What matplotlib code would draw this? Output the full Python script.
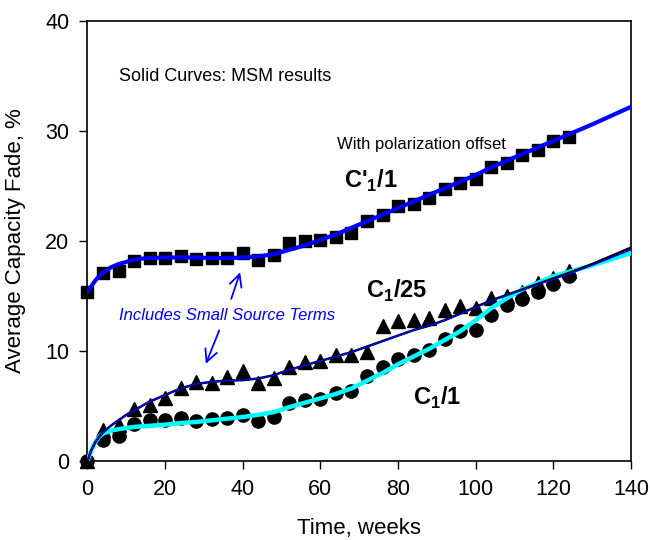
import matplotlib
matplotlib.use("Agg")
import matplotlib.pyplot as plt

plt.rcParams['font.family'] = ['Liberation Sans', 'DejaVu Sans']
plt.rcParams['mathtext.fontset'] = 'custom'
plt.rcParams['mathtext.rm'] = 'Liberation Sans'
plt.rcParams['mathtext.bf'] = 'Liberation Sans:bold'

# Mesures : une tous les 4 semaines
semainesMesures = list(range(0, 125, 4))

fadeCPrime = [15.4, 17.1, 17.25, 18.2, 18.5, 18.5, 18.6, 18.4, 18.5, 18.5, 18.9,
	18.3, 18.7, 19.8, 20.0, 20.1, 20.4, 20.7, 21.8, 22.4, 23.2, 23.4, 23.9, 24.7,
	25.3, 25.6, 26.7, 27.1, 27.8, 28.3, 29.1, 29.5]

fadeC25 = [0.0, 2.8, 3.3, 4.7, 5.1, 5.7, 6.6, 7.2, 7.1, 7.6, 8.2, 7.1, 7.5, 8.5,
	9.0, 9.1, 9.6, 9.6, 9.9, 12.3, 12.7, 12.85, 13.0, 13.7, 14.1, 13.9, 14.8, 15.0,
	15.4, 16.2, 16.6, 17.25]

fadeC1 = [0.0, 1.9, 2.3, 3.4, 3.7, 3.7, 3.9, 3.6, 3.8, 3.9, 4.2, 3.6, 4.0, 5.3,
	5.5, 5.6, 6.2, 6.4, 7.7, 8.5, 9.3, 9.6, 10.05, 11.1, 11.8, 11.9, 13.3, 14.2,
	14.7, 15.4, 16.1, 16.8]

# Courbes du modele MSM
semainesModele = [0, 1, 2, 3, 4, 6, 8, 10, 12, 14, 16, 20, 24, 28, 32, 36, 40, 44,
	48, 52, 56, 60, 64, 68, 72, 76, 80, 84, 88, 92, 96, 100, 104, 108, 112, 116,
	120, 124, 130, 140]

modeleCPrime = [15.4, 15.9, 16.4, 16.8, 17.1, 17.6, 17.9, 18.1, 18.3, 18.4, 18.45,
	18.5, 18.5, 18.5, 18.45, 18.45, 18.5, 18.6, 18.8, 19.2, 19.6, 20.1, 20.6, 21.2,
	21.8, 22.4, 23.0, 23.6, 24.2, 24.8, 25.4, 26.0, 26.7, 27.3, 27.9, 28.5, 29.1,
	29.7, 30.6, 32.2]

modeleC25 = [0.0, 1.0, 1.7, 2.2, 2.6, 3.2, 3.7, 4.2, 4.6, 5.0, 5.4, 6.0, 6.6, 7.0,
	7.2, 7.3, 7.35, 7.5, 7.8, 8.3, 8.7, 9.1, 9.5, 9.9, 10.4, 10.9, 11.4, 11.9, 12.3,
	12.8, 13.4, 14.0, 14.6, 15.1, 15.6, 16.1, 16.6, 17.1, 17.9, 19.4]

modeleC25Source = [0.0, 1.0, 1.7, 2.2, 2.6, 3.2, 3.7, 4.2, 4.6, 5.0, 5.4, 6.0, 6.6,
	7.0, 7.2, 7.3, 7.35, 7.5, 7.8, 8.3, 8.7, 9.1, 9.5, 9.9, 10.4, 10.9, 11.4, 11.9,
	12.3, 12.8, 13.35, 13.95, 14.55, 15.05, 15.55, 16.05, 16.5, 17.0, 17.8, 19.2]

modeleC1 = [0.0, 1.0, 1.7, 2.2, 2.5, 2.75, 2.9, 3.0, 3.1, 3.15, 3.2, 3.3, 3.45,
	3.55, 3.7, 3.85, 4.0, 4.2, 4.45, 4.9, 5.3, 5.7, 6.1, 6.6, 7.3, 8.0, 8.8, 9.5,
	10.2, 11.0, 11.8, 12.8, 13.9, 14.8, 15.6, 16.2, 16.8, 17.2, 17.8, 18.9]

fig = plt.figure(figsize=(6.5, 5.4), dpi=100)
ax = fig.add_axes([0.1346, 0.1463, 0.8362, 0.8148])

# points de mesure (non coupes au bord des axes)
ax.plot(semainesMesures, fadeCPrime, 's', color='black', markersize=8.5, zorder=2, clip_on=False)
ax.plot(semainesMesures, fadeC25, '^', color='black', markersize=9.5, zorder=2, clip_on=False)
ax.plot(semainesMesures, fadeC1, 'o', color='black', markersize=9.5, zorder=2, clip_on=False)

ax.plot(semainesModele, modeleC1, color='#00ffff', linewidth=3.2, zorder=3)
ax.plot(semainesModele, modeleC25, color='black', linewidth=1.8, zorder=4)
ax.plot(semainesModele, modeleC25Source, color='#0000ff', linewidth=1.0, zorder=5)
ax.plot(semainesModele, modeleCPrime, color='#0000ff', linewidth=3.0, zorder=4)

ax.set_xlim(0, 140)
ax.set_ylim(0, 40)
ax.set_xticks(range(0, 141, 20))
ax.set_yticks(range(0, 41, 10))
ax.tick_params(direction='out', length=6, width=1, labelsize=15.5, pad=7)
for spine in ax.spines.values():
	spine.set_linewidth(1.2)

ax.set_xlabel("Time, weeks", fontsize=16, labelpad=13)
ax.set_ylabel("Average Capacity Fade, %", fontsize=16, labelpad=14)

ax.text(8, 34.56, "Solid Curves: MSM results", fontsize=13, va='baseline')
ax.text(64.3, 28.4, "With polarization offset", fontsize=12, va='baseline')
ax.text(66.1, 24.85, r"C'$_\mathbf{1}$/1", fontsize=17, fontweight='bold', va='baseline')
ax.text(71.8, 14.8, r"C$_\mathbf{1}$/25", fontsize=17, fontweight='bold', va='baseline')
ax.text(83.8, 5.1, r"C$_\mathbf{1}$/1", fontsize=17, fontweight='bold', va='baseline')

ax.text(35.9, 12.85, "Includes Small Source Terms", fontsize=12, style='italic',
	color='#0000ff', ha='center', va='baseline')
ax.annotate("", xy=(39.55, 17.4), xytext=(36.8, 14.5),
	arrowprops=dict(arrowstyle='->', color='#0000ff', lw=1.3, mutation_scale=22))
ax.annotate("", xy=(30.2, 8.6), xytext=(34.2, 12.1),
	arrowprops=dict(arrowstyle='->', color='#0000ff', lw=1.3, mutation_scale=22))

fig.savefig("out.png", dpi=100)
